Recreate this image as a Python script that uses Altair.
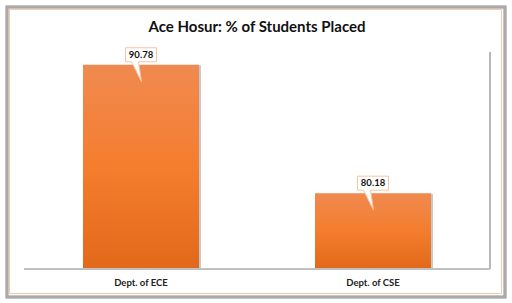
import altair as alt
import pandas as pd

departments = ["Dept. of ECE", "Dept. of CSE"]
placed_pct = [90.78, 80.18]
labels = ["90.78", "80.18"]

df = pd.DataFrame({"dept": departments, "pct": placed_pct, "label": labels})

W, H = 464, 218
PL, PT = 25, 50
Y_MIN, Y_MAX = 74, 92

x = alt.X("dept:N", sort=departments, title=None,
          scale=alt.Scale(paddingInner=0.5, paddingOuter=0.25),
          axis=alt.Axis(labelAngle=0, domain=False, ticks=False, labelPadding=9,
                        labelFont="Lato", labelFontSize=9.5, labelFontWeight="bold",
                        labelColor="#222222", labelBaseline="top", zindex=2))
y = alt.Y("pct:Q", title=None, scale=alt.Scale(domain=[Y_MIN, Y_MAX], zero=False, nice=False),
          axis=None)

base = alt.Chart(df)

# outer frame (chart border with shadow)
frame_shadow = base.mark_rect(fill=None, stroke="#a8a8a8", strokeWidth=3, opacity=0.85).encode(
    x=alt.value(7 - PL), x2=alt.value(505 - PL), y=alt.value(7 - PT), y2=alt.value(297 - PT))
frame_inner = base.mark_rect(fill="white", stroke="#f6c9aa", strokeWidth=1).encode(
    x=alt.value(9.5 - PL), x2=alt.value(501.5 - PL), y=alt.value(9.5 - PT), y2=alt.value(293.5 - PT))

# plot-area shadow lines
plot_right = base.mark_rule(color="#b8b8b8", strokeWidth=2).encode(
    x=alt.value(W + 1), y=alt.value(2), y2=alt.value(H + 1))
plot_bottom = base.mark_rule(color="#c0c0c0", strokeWidth=2).encode(
    x=alt.value(-1), x2=alt.value(W + 1), y=alt.value(H + 1))

bar_shadow = base.mark_bar(color="#c8c8c8", xOffset=1, yOffset=0.5, width=118).encode(
    x=x, y=y, y2=alt.datum(Y_MIN))

bars = base.mark_bar(
    color=alt.Gradient(
        gradient="linear", x1=0, y1=0, x2=0, y2=1,
        stops=[alt.GradientStop(color="#f08a50", offset=0),
               alt.GradientStop(color="#f47d2e", offset=0.5),
               alt.GradientStop(color="#e3691a", offset=1)]),
    width=116
).encode(x=x, y=y, y2=alt.datum(Y_MIN))

callout_path = ("M -0.775 -0.85 L 0.775 -0.85 L 0.775 -0.15 L -0.125 -0.15 "
                "L 0.025 0.85 L -0.475 -0.15 L -0.775 -0.15 Z")
callouts = base.mark_point(shape=callout_path, size=1600, filled=True, fill="white",
                           stroke="#f6c4a0", strokeWidth=1, opacity=1).encode(x=x, y=y)

texts = base.mark_text(font="Lato", fontSize=9.5, fontWeight="bold", color="#111111",
                       dy=-10, baseline="middle").encode(x=x, y=y, text="label:N")

chart = alt.layer(frame_shadow, frame_inner, plot_right, plot_bottom, bar_shadow, bars,
                  callouts, texts).properties(
    width=W, height=H,
    title=alt.TitleParams("Ace Hosur: % of Students Placed", font="Lato", fontSize=15,
                          fontWeight="bold", color="#111111", anchor="middle",
                          baseline="alphabetic", offset=0, dy=41.5, frame="group", zindex=2),
    autosize=alt.AutoSizeParams(type="none"),
    padding={"left": PL, "top": PT, "right": 512 - PL - W, "bottom": 303 - PT - H},
    background="white"
).configure_view(stroke=None)

chart.save("out.html", embed_options={"renderer": "svg", "actions": False})
